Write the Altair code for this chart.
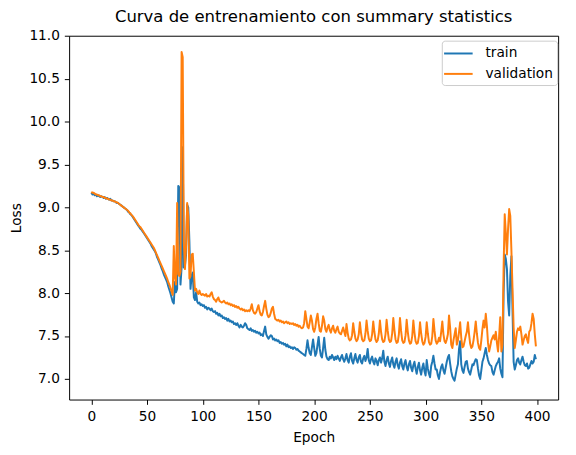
import altair as alt
import pandas as pd

epochs = list(range(400))

train_loss = [
    9.17, 9.15, 9.16, 9.14, 9.15, 9.13, 9.14, 9.13, 9.12, 9.13,
    9.12, 9.11, 9.12, 9.10, 9.11, 9.10, 9.09, 9.10, 9.08, 9.08,
    9.07, 9.07, 9.06, 9.05, 9.05, 9.04, 9.03, 9.02, 9.01, 9.00,
    8.99, 8.98, 8.97, 8.95, 8.94, 8.92, 8.91, 8.89, 8.87, 8.85,
    8.83, 8.81, 8.79, 8.77, 8.75, 8.74, 8.72, 8.70, 8.68, 8.66,
    8.64, 8.62, 8.60, 8.58, 8.55, 8.53, 8.51, 8.49, 8.46, 8.42,
    8.39, 8.36, 8.33, 8.29, 8.26, 8.22, 8.19, 8.16, 8.13, 8.08,
    8.04, 8.00, 7.95, 7.90, 7.88, 8.13, 8.01, 8.05, 9.25, 9.23,
    8.10, 8.30, 9.70, 8.30, 8.32, 8.45, 9.03, 9.00, 8.60, 8.05,
    8.20, 8.24, 7.95, 7.92, 8.01, 7.90, 7.88, 7.89, 7.86, 7.87,
    7.85, 7.86, 7.83, 7.84, 7.81, 7.83, 7.82, 7.80, 7.82, 7.79,
    7.78, 7.79, 7.76, 7.77, 7.74, 7.76, 7.73, 7.74, 7.71, 7.72,
    7.70, 7.71, 7.68, 7.70, 7.67, 7.68, 7.66, 7.67, 7.64, 7.65,
    7.63, 7.65, 7.62, 7.60, 7.63, 7.61, 7.60, 7.62, 7.65, 7.63,
    7.59, 7.58, 7.57, 7.59, 7.56, 7.57, 7.55, 7.56, 7.54, 7.55,
    7.53, 7.54, 7.51, 7.52, 7.50, 7.56, 7.61, 7.52, 7.49, 7.47,
    7.49, 7.51, 7.50, 7.46, 7.47, 7.45, 7.46, 7.44, 7.45, 7.42,
    7.43, 7.41, 7.42, 7.40, 7.41, 7.38, 7.40, 7.37, 7.38, 7.36,
    7.37, 7.35, 7.37, 7.36, 7.34, 7.35, 7.33, 7.32, 7.31, 7.30,
    7.29, 7.28, 7.27, 7.35, 7.45, 7.36, 7.30, 7.28, 7.37, 7.46,
    7.36, 7.27, 7.30, 7.40, 7.49, 7.35, 7.27, 7.25, 7.36, 7.48,
    7.34, 7.26, 7.23, 7.22, 7.26, 7.24, 7.28, 7.25, 7.22, 7.26,
    7.23, 7.27, 7.24, 7.21, 7.25, 7.28, 7.23, 7.20, 7.24, 7.29,
    7.22, 7.19, 7.26, 7.30, 7.21, 7.18, 7.24, 7.29, 7.22, 7.19,
    7.25, 7.28, 7.20, 7.18, 7.24, 7.27, 7.21, 7.25, 7.35, 7.22,
    7.18, 7.23, 7.26, 7.20, 7.17, 7.24, 7.21, 7.16, 7.22, 7.25,
    7.19, 7.24, 7.33, 7.20, 7.15, 7.22, 7.26, 7.18, 7.14, 7.21,
    7.25, 7.17, 7.13, 7.20, 7.24, 7.16, 7.12, 7.19, 7.23, 7.15,
    7.11, 7.18, 7.22, 7.14, 7.10, 7.17, 7.21, 7.13, 7.09, 7.16,
    7.20, 7.12, 7.06, 7.14, 7.19, 7.10, 7.05, 7.13, 7.18, 7.09,
    7.04, 7.22, 7.12, 7.06, 7.02, 7.15, 7.20, 7.27, 7.18, 7.11,
    7.11, 7.04, 7.00, 7.08, 7.14, 7.17, 7.10, 7.06, 7.13, 7.20,
    7.25, 7.28, 7.18, 7.09, 7.03, 7.00, 6.98, 7.05, 7.12, 7.17,
    7.35, 7.44, 7.17, 7.10, 7.07, 7.14, 7.20, 7.21, 7.12, 7.08,
    7.05, 7.11, 7.17, 7.16, 7.20, 7.23, 7.22, 7.12, 7.04, 7.00,
    7.10, 7.20, 7.24, 7.30, 7.36, 7.28, 7.22, 7.18, 7.16, 7.15,
    7.08, 7.05, 7.10, 7.15, 7.18, 7.20, 7.24, 7.12, 7.06, 7.02,
    8.00, 8.45, 8.40, 8.28, 7.90, 7.74, 8.20, 8.43, 7.80, 7.20,
    7.11, 7.16, 7.22, 7.24, 7.19, 7.17, 7.22, 7.26, 7.20, 7.16,
    7.15, 7.18, 7.12, 7.13, 7.17, 7.21, 7.18, 7.20, 7.28, 7.23,
]

val_loss = [
    9.18, 9.17, 9.17, 9.16, 9.15, 9.15, 9.14, 9.14, 9.13, 9.13,
    9.12, 9.12, 9.11, 9.11, 9.10, 9.10, 9.09, 9.09, 9.08, 9.08,
    9.07, 9.07, 9.06, 9.06, 9.05, 9.04, 9.03, 9.02, 9.01, 9.00,
    8.99, 8.98, 8.97, 8.96, 8.94, 8.93, 8.91, 8.90, 8.88, 8.86,
    8.84, 8.82, 8.80, 8.78, 8.77, 8.75, 8.73, 8.71, 8.69, 8.67,
    8.65, 8.63, 8.61, 8.59, 8.57, 8.55, 8.53, 8.50, 8.47, 8.44,
    8.41, 8.38, 8.35, 8.32, 8.29, 8.26, 8.23, 8.20, 8.17, 8.13,
    8.10, 8.06, 8.02, 7.98, 8.55, 8.18, 8.10, 9.05, 8.22, 8.20,
    8.25, 10.81, 10.75, 8.60, 8.28, 8.55, 9.05, 8.90, 8.17, 8.20,
    8.45, 8.46, 8.25, 8.03, 8.05, 8.01, 7.99, 8.03, 7.99, 7.98,
    7.99, 7.98, 7.97, 7.99, 7.96, 7.97, 7.96, 7.99, 8.01, 7.96,
    7.93, 7.92, 7.90, 7.93, 7.95, 7.91, 7.90, 7.89, 7.90, 7.91,
    7.89, 7.88, 7.89, 7.87, 7.88, 7.86, 7.87, 7.85, 7.86, 7.84,
    7.85, 7.83, 7.84, 7.82, 7.81, 7.82, 7.80, 7.81, 7.79, 7.80,
    7.79, 7.80, 7.79, 7.82, 7.87, 7.80, 7.77, 7.76, 7.78, 7.82,
    7.86, 7.79, 7.75, 7.74, 7.78, 7.85, 7.91, 7.82, 7.75, 7.72,
    7.73, 7.77, 7.82, 7.84, 7.76, 7.70, 7.69, 7.68, 7.69, 7.67,
    7.68, 7.66, 7.67, 7.65, 7.66, 7.67, 7.65, 7.66, 7.64, 7.65,
    7.64, 7.65, 7.63, 7.64, 7.62, 7.63, 7.61, 7.62, 7.60, 7.59,
    7.60, 7.65, 7.79, 7.70, 7.61, 7.59, 7.66, 7.74, 7.68, 7.58,
    7.55, 7.60, 7.70, 7.76, 7.65, 7.56, 7.55, 7.62, 7.73, 7.68,
    7.58, 7.55, 7.60, 7.63, 7.57, 7.54, 7.59, 7.62, 7.56, 7.54,
    7.58, 7.61, 7.55, 7.53, 7.52, 7.56, 7.60, 7.55, 7.50, 7.64,
    7.54, 7.47, 7.45, 7.46, 7.51, 7.65, 7.55, 7.47, 7.44, 7.46,
    7.52, 7.66, 7.54, 7.46, 7.44, 7.45, 7.53, 7.68, 7.56, 7.47,
    7.44, 7.45, 7.52, 7.67, 7.55, 7.46, 7.43, 7.45, 7.53, 7.68,
    7.55, 7.46, 7.43, 7.44, 7.52, 7.69, 7.56, 7.46, 7.43, 7.44,
    7.53, 7.71, 7.57, 7.46, 7.42, 7.43, 7.52, 7.71, 7.56, 7.45,
    7.42, 7.43, 7.51, 7.69, 7.55, 7.45, 7.41, 7.42, 7.50, 7.68,
    7.54, 7.44, 7.41, 7.42, 7.50, 7.66, 7.53, 7.44, 7.40, 7.42,
    7.49, 7.66, 7.53, 7.43, 7.40, 7.41, 7.50, 7.70, 7.56, 7.45,
    7.41, 7.43, 7.48, 7.44, 7.55, 7.67, 7.52, 7.44, 7.42, 7.46,
    7.52, 7.74, 7.60, 7.40, 7.36, 7.45, 7.52, 7.59, 7.40, 7.45,
    7.55, 7.66, 7.48, 7.37, 7.38, 7.44, 7.50, 7.55, 7.66, 7.52,
    7.41, 7.36, 7.38, 7.45, 7.55, 7.67, 7.53, 7.42, 7.36, 7.34,
    7.45, 7.58, 7.68, 7.60, 7.76, 7.62, 7.42, 7.32, 7.38, 7.45,
    7.48, 7.51, 7.46, 7.55, 7.42, 7.32, 7.50, 7.72, 7.32, 7.40,
    8.30, 8.92, 8.70, 8.45, 8.75, 8.98, 8.90, 8.50, 8.05, 7.60,
    7.36, 7.45, 7.55, 7.59, 7.57, 7.61, 7.52, 7.40, 7.45, 7.50,
    7.52, 7.46, 7.42, 7.55, 7.57, 7.65, 7.76, 7.70, 7.52, 7.38,
]

series_names = ["train", "validation"]
series_colors = ["#1f77b4", "#ff7f0e"]
x_ticks = [0, 50, 100, 150, 200, 250, 300, 350, 400]
y_ticks = [7.0, 7.5, 8.0, 8.5, 9.0, 9.5, 10.0, 10.5, 11.0]

n = len(epochs)
df = pd.DataFrame({
    "Epoch": epochs + epochs,
    "Loss": train_loss[:n] + val_loss[:n],
    "series": [series_names[0]] * n + [series_names[1]] * n,
})

FONT = "DejaVu Sans"
FS = 13.9

chart = (
    alt.Chart(df)
    .mark_line(strokeWidth=2.0, strokeJoin="round", clip=True)
    .encode(
        x=alt.X(
            "Epoch:Q",
            scale=alt.Scale(domain=[-19.95, 418.95], nice=False, zero=False),
            axis=alt.Axis(values=x_ticks, title="Epoch", titlePadding=8, labelPadding=5),
        ),
        y=alt.Y(
            "Loss:Q",
            scale=alt.Scale(domain=[6.76, 11.0], nice=False, zero=False),
            axis=alt.Axis(values=y_ticks, format=".1f", title="Loss", titlePadding=5.5, labelPadding=5),
        ),
        color=alt.Color(
            "series:N",
            scale=alt.Scale(domain=series_names, range=series_colors),
            legend=alt.Legend(
                title=None,
                orient="none",
                legendX=378,
                legendY=5,
                symbolType="M-1.81,0H1.81",
                symbolSize=256,
                symbolStrokeWidth=2.0,
                symbolOffset=3.8,
                labelOffset=18.5,
                rowPadding=4.7,
                padding=4,
                fillColor="white",
                strokeColor="#cccccc",
                cornerRadius=3,
                labelFont=FONT,
                labelFontSize=FS,
                labelColor="black",
            ),
        ),
    )
    .properties(
        width=496,
        height=369,
        title=alt.TitleParams(
            "Curva de entrenamiento con summary statistics",
            font=FONT,
            fontSize=16.7,
            fontWeight="normal",
            color="black",
            anchor="middle",
            offset=3,
        ),
        autosize=alt.AutoSizeParams(type="none"),
        padding={"left": 62, "top": 25, "right": 10, "bottom": 45},
    )
    .configure_view(stroke="black", strokeWidth=1)
    .configure_axis(
        grid=False,
        domain=False,
        labelFont=FONT,
        labelFontSize=FS,
        labelColor="black",
        tickColor="black",
        tickSize=4.86,
        tickWidth=1,
        titleFont=FONT,
        titleFontSize=FS,
        titleFontWeight="normal",
        titleColor="black",
    )
)

chart.save("out.html", embed_options={"renderer": "svg", "actions": False})
